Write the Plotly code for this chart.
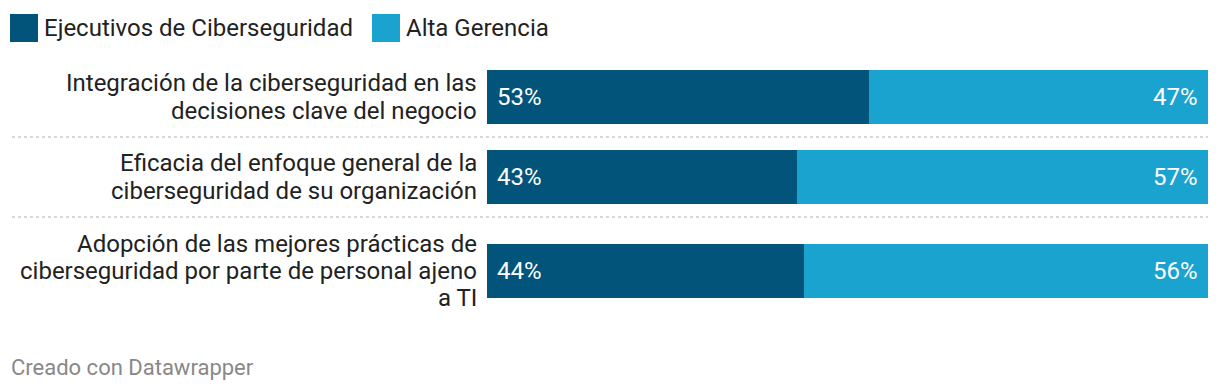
import plotly.graph_objects as go

# ---- data ----
categories = [
    "Integración de la ciberseguridad en las<br>decisiones clave del negocio",
    "Eficacia del enfoque general de la<br>ciberseguridad de su organización",
    "Adopción de las mejores prácticas de<br>ciberseguridad por parte de personal ajeno<br>a TI",
]
series_names = ["Ejecutivos de Ciberseguridad", "Alta Gerencia"]
ejecutivos = [53, 43, 44]
alta_gerencia = [47, 57, 56]
footer_text = "Creado con Datawrapper"

# ---- layout constants (pixel-based) ----
W, H = 1220, 390
row_centers = [97, 177, 271]
bar_h = 54
separators = [137, 217]
x0_px, x1_px = 487, 1208
dark = "#03547a"
light = "#1aa3cf"
font = "Roboto"

fig = go.Figure()
fig.add_trace(go.Bar(y=row_centers, x=ejecutivos, orientation="h", width=bar_h,
                     marker=dict(color=dark, line=dict(width=0)), name=series_names[0],
                     hoverinfo="x"))
fig.add_trace(go.Bar(y=row_centers, x=alta_gerencia, orientation="h", width=bar_h,
                     marker=dict(color=light, line=dict(width=0)), name=series_names[1],
                     hoverinfo="x"))

ann = []
shapes = []
for yc, cat, a, b in zip(row_centers, categories, ejecutivos, alta_gerencia):
    lines = cat.split("<br>")
    n = len(lines)
    sp = 28 if n == 2 else 27
    for i, ln in enumerate(lines):
        ann.append(dict(x=479 / W, xref="paper", y=yc + (i - (n - 1) / 2) * sp, yref="y",
                        text=ln, showarrow=False, xanchor="right", yanchor="middle",
                        font=dict(family=font, size=24, color="#222")))
    ann.append(dict(x=0, xref="x", y=yc, yref="y", text=f"{a}%", showarrow=False,
                    xanchor="left", xshift=8, yanchor="middle",
                    font=dict(family=font, size=24, color="white")))
    ann.append(dict(x=a + b, xref="x", y=yc, yref="y", text=f"{b}%", showarrow=False,
                    xanchor="right", xshift=-8, yanchor="middle",
                    font=dict(family=font, size=24, color="white")))

for s in separators:
    shapes.append(dict(type="line", xref="paper", yref="y", x0=12 / W, x1=x1_px / W,
                       y0=s, y1=s, line=dict(color="#cccccc", width=1.3, dash="dot")))

# legend (manual)
leg = [(10, series_names[0], dark), (372, series_names[1], light)]
for lx, name, col in leg:
    shapes.append(dict(type="rect", xref="paper", yref="y", x0=lx / W, x1=(lx + 28) / W,
                       y0=14, y1=42, fillcolor=col, line=dict(width=0)))
    ann.append(dict(x=(lx + 32) / W, xref="paper", y=28, yref="y", text=name,
                    showarrow=False, xanchor="left", yanchor="middle",
                    font=dict(family=font, size=24, color="#222")))

ann.append(dict(x=9 / W, xref="paper", y=367, yref="y", text=footer_text, showarrow=False,
                xanchor="left", yanchor="middle",
                font=dict(family=font, size=22, color="#888888")))

fig.update_layout(
    width=W, height=H, barmode="stack", showlegend=False,
    margin=dict(l=0, r=0, t=0, b=0), paper_bgcolor="white", plot_bgcolor="white",
    xaxis=dict(domain=[x0_px / W, x1_px / W], range=[0, 100], visible=False, fixedrange=True),
    yaxis=dict(domain=[0, 1], range=[H, 0], visible=False, fixedrange=True),
    annotations=ann, shapes=shapes, bargap=0,
)
fig.write_html("out.html", config={"displayModeBar": False},
               post_script="document.body.style.margin='0';document.body.style.padding='0';")
